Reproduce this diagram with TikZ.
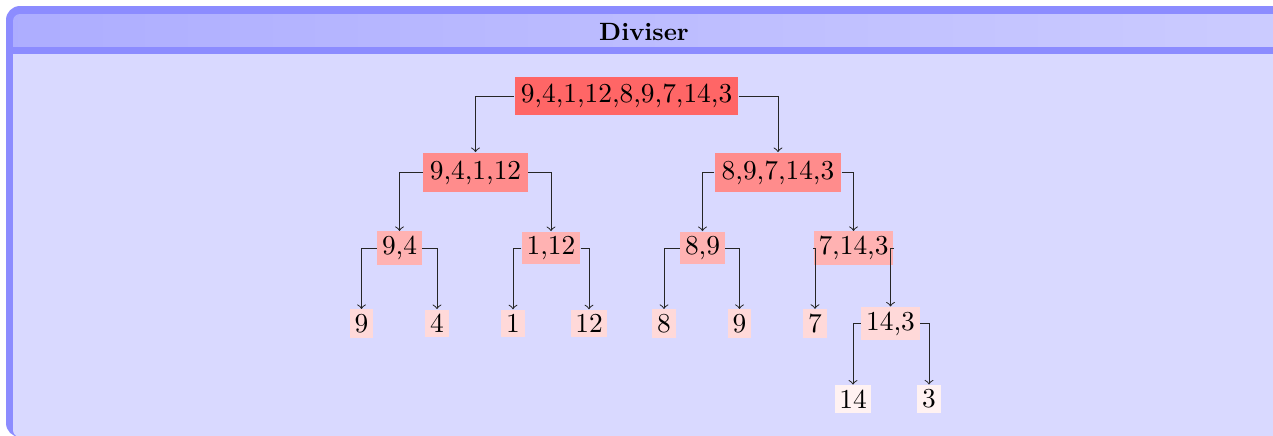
\documentclass[tikz,border=0pt]{standalone}
\begin{document}
\begin{tikzpicture}[x=0.4pt,y=-0.4pt,
  edge/.style={draw=black!85,->},
  tree/.style={font=\fontsize{10.95}{13.6}\selectfont},
  nd/.style={tree,inner xsep=1.9pt,inner ysep=1.85pt},
  lvone/.style={tree,fill=red!60,inner xsep=2.4pt,inner ysep=3.0pt},
  lvtwo/.style={tree,fill=red!45,inner xsep=2.7pt,inner ysep=3.2pt},
  lvthree/.style={nd,fill=red!30},
  lvfour/.style={nd,fill=red!15},
  lvfive/.style={nd,fill=red!5}]
\useasboundingbox (0,0) rectangle (1273,435);
\clip (0,0) rectangle (1273,435);
% box frame, title band, separator rule and body
\fill[blue!45, rounded corners=5.6pt] (6,6) rectangle (1320,437);
\shade[left color=blue!32, right color=blue!20, rounded corners=2.8pt] (13,14) rectangle (1313,60);
\fill[blue!45] (13,47) rectangle (1313,54);
\fill[blue!15, rounded corners=2.8pt] (13,54) rectangle (1313,437);
\fill[blue!15] (13,54) rectangle (1313,70);
\node (title) at (644,31.5) {\bfseries Diviser};
% tree nodes
\node[lvone] (r) at (626.5,96) {9,4,1,12,8,9,7,14,3};
\node[lvtwo] (a) at (475.5,172.5) {9,4,1,12};
\node[lvtwo] (b) at (778,172.5) {8,9,7,14,3};
\node[lvthree] (aa) at (399.5,248) {9,4};
\node[lvthree] (ab) at (551,248) {1,12};
\node[lvthree] (ba) at (702.5,248) {8,9};
\node[lvthree] (bb) at (853.5,248) {7,14,3};
\node[lvfour] (aaa) at (361.5,323.5) {9};
\node[lvfour] (aab) at (437,323.5) {4};
\node[lvfour] (aba) at (513,323.5) {1};
\node[lvfour] (abb) at (589,323.5) {12};
\node[lvfour] (baa) at (664,323.5) {8};
\node[lvfour] (bab) at (739.5,323.5) {9};
\node[lvfour] (bba) at (815,323.5) {7};
\node[lvfour] (bbb) at (890.5,323.5) {14,3};
\node[lvfive] (bbba) at (853,399) {14};
\node[lvfive] (bbbb) at (929,399) {3};
% connectors
\draw[edge] (r.west) -| (a.north);
\draw[edge] (r.east) -| (b.north);
\draw[edge] (a.west) -| (aa.north);
\draw[edge] (a.east) -| (ab.north);
\draw[edge] (b.west) -| (ba.north);
\draw[edge] (b.east) -| (bb.north);
\draw[edge] (aa.west) -| (aaa.north);
\draw[edge] (aa.east) -| (aab.north);
\draw[edge] (ab.west) -| (aba.north);
\draw[edge] (ab.east) -| (abb.north);
\draw[edge] (ba.west) -| (baa.north);
\draw[edge] (ba.east) -| (bab.north);
\draw[edge] (bb.west) -| (bba.north);
\draw[edge] (bb.east) -| (bbb.north);
\draw[edge] (bbb.west) -| (bbba.north);
\draw[edge] (bbb.east) -| (bbbb.north);
\end{tikzpicture}
\end{document}
